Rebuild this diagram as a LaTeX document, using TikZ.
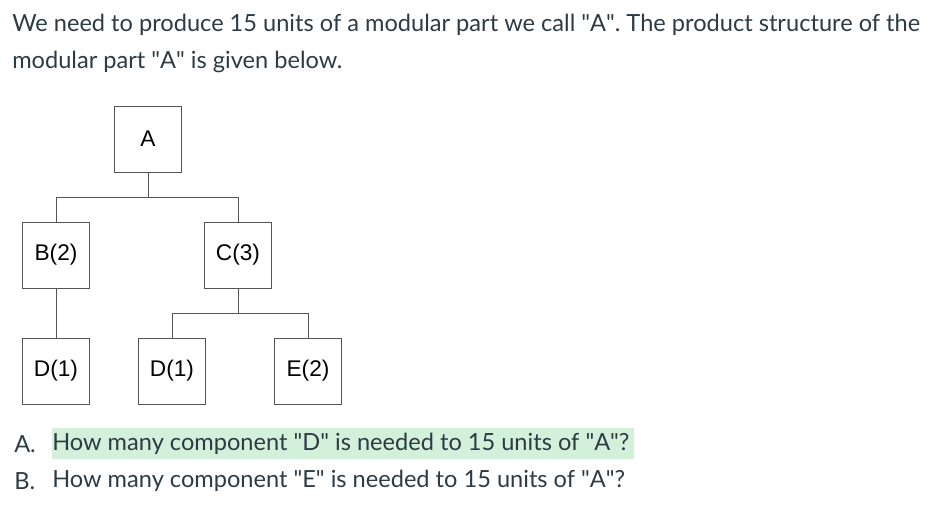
\documentclass[tikz,border=0pt]{standalone}
\usepackage{fontspec}
\setmainfont{Lato}
\newfontfamily\boxfont{Liberation Sans}
\usetikzlibrary{positioning}
\definecolor{txt}{HTML}{2D3B45}
\definecolor{hilite}{HTML}{D3F0DB}
\definecolor{edge}{HTML}{555555}
\newcommand{\qq}[1]{\textquotedbl#1\textquotedbl}

\begin{document}
\begin{tikzpicture}[x=0.75pt,y=-0.75pt,
	part/.style={draw=edge,fill=white,minimum width=50pt,minimum height=49.5pt,inner sep=0pt,font=\boxfont\fontsize{17}{20}\selectfont},
	textline/.style={anchor=west,inner sep=0pt,text=txt,font=\fontsize{17.7}{21}\selectfont},
	]
	\useasboundingbox (0,0) rectangle (950,518);
	%text
	\node[textline] (t1) at (12,25) {We need to produce 15 units of a modular part we call \qq{A}. The product structure of the};
	\node[textline] (t2) at (12,62) {modular part \qq{A} is given below.};
	\fill[hilite] (52,428) rectangle (634,459);
	\node[textline] (qa) at (14,444) {A.};
	\node[textline] (qa2) at (52,444) {How many component \qq{D} is needed to 15 units of \qq{A}?};
	\node[textline] (qb) at (14,481) {B.};
	\node[textline] (qb2) at (52,481) {How many component \qq{E} is needed to 15 units of \qq{A}?};
	%parts
	\node[part] (a) at (148,139) {A};
	\node[part] (b) at (56,255) {B(2)};
	\node[part] (c) at (238,255) {C(3)};
	\node[part] (d1) at (56,371) {D(1)};
	\node[part] (d2) at (172,371) {D(1)};
	\node[part] (e) at (308,371) {E(2)};
	%links
	\draw[edge] (a.south) -- ++(0,25) -| (b.north);
	\draw[edge] (a.south) ++(0,25) -| (c.north);
	\draw[edge] (b.south) -- (d1.north);
	\draw[edge] (c.south) -- ++(0,25) -| (d2.north);
	\draw[edge] (c.south) ++(0,25) -| (e.north);
\end{tikzpicture}
\end{document}
